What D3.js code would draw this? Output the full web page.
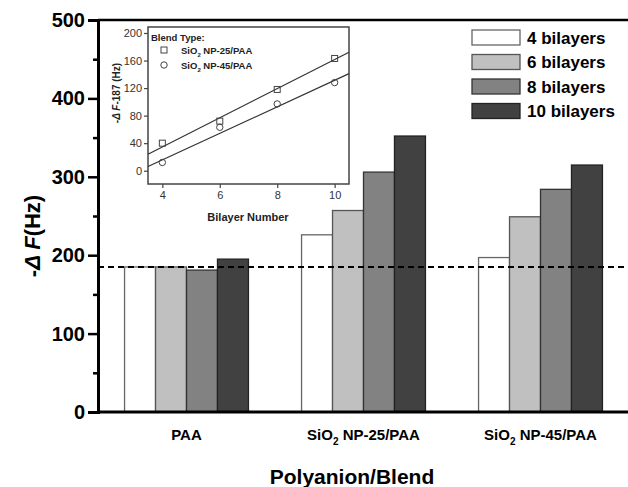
<!DOCTYPE html>
<html lang="en">
<head>
  <meta charset="UTF-8">
  <title>Frequency shift by bilayers</title>
  <script src="https://d3js.org/d3.v7.min.js"></script>
  <style>
    body { margin: 0; background: #fff; }
    text { font-family: "Liberation Sans", Arial, sans-serif; }
  </style>
</head>
<body>
  <div id="chart"></div>

  <script>
    // main bar chart data
    const groups = ["PAA", "SiO2 NP-25/PAA", "SiO2 NP-45/PAA"];
    const series = ["4 bilayers", "6 bilayers", "8 bilayers", "10 bilayers"];
    const bil4 = [185, 226, 197];
    const bil6 = [185, 257, 249];
    const bil8 = [181, 306, 284];
    const bil10 = [195, 352, 315];
    const baseline = 185;
    const yTicks = [0, 100, 200, 300, 400, 500];

    // inset data
    const bilayerNumbers = [4, 6, 8, 10];
    const np25 = [40, 72, 118, 163];
    const np45 = [12, 63, 97, 128];
    const fit25 = [[3.5, 24], [10.5, 172]];
    const fit45 = [[3.5, 6], [10.5, 141]];
    const insetYTicks = [0, 40, 80, 120, 160, 200];

    const width = 628;
    const height = 487;
    const colors = ["#ffffff", "#c0c0c0", "#828282", "#414141"];
    const strokes = ["#666", "#555", "#333", "#222"];
    const values = [bil4, bil6, bil8, bil10];

    const svg = d3.select("#chart")
      .append("svg")
      .attr("width", width)
      .attr("height", height);

    const x0 = d3.scaleBand()
      .domain(groups)
      .range([98, 629])
      .paddingInner(0.3)
      .paddingOuter(0.15);

    const x1 = d3.scaleBand()
      .domain(series)
      .range([0, x0.bandwidth()]);

    const y = d3.scaleLinear()
      .domain([0, 500])
      .range([412, 20]);

    const rows = [];
    groups.forEach((g, gi) => {
      series.forEach((s, si) => {
        rows.push({ group: g, series: s, value: values[si][gi], color: colors[si], stroke: strokes[si] });
      });
    });

    svg.selectAll(".bar")
      .data(rows)
      .enter().append("rect")
      .attr("class", "bar")
      .attr("x", d => x0(d.group) + x1(d.series))
      .attr("y", d => y(d.value))
      .attr("width", x1.bandwidth())
      .attr("height", d => y(0) - y(d.value))
      .attr("fill", d => d.color)
      .attr("stroke", d => d.stroke)
      .attr("stroke-width", 1.3);

    // dashed reference line
    svg.append("line")
      .attr("x1", 98).attr("x2", width)
      .attr("y1", y(baseline)).attr("y2", y(baseline))
      .attr("stroke", "#000")
      .attr("stroke-width", 2)
      .attr("stroke-dasharray", "6,4");

    // top frame line
    svg.append("line")
      .attr("x1", 98).attr("x2", width)
      .attr("y1", y(500)).attr("y2", y(500))
      .attr("stroke", "#000")
      .attr("stroke-width", 2.5);

    // y axis
    const yAxis = svg.append("g")
      .attr("transform", "translate(98,0)")
      .call(d3.axisLeft(y).tickValues(yTicks).tickSize(10).tickPadding(3));
    yAxis.select(".domain").attr("stroke-width", 3);
    yAxis.selectAll(".tick line").attr("stroke-width", 2.5);
    yAxis.selectAll("text")
      .style("font-family", "'Liberation Sans', Arial, sans-serif")
      .style("font-size", "20px")
      .style("font-weight", "bold")
      .attr("fill", "#000");

    svg.append("g")
      .attr("transform", "translate(98,0)")
      .call(d3.axisLeft(y).tickValues(d3.range(50, 500, 100)).tickSize(5).tickFormat(""))
      .call(g => g.select(".domain").remove())
      .selectAll(".tick line").attr("stroke-width", 2.5);

    // x axis
    const xAxis = svg.append("g")
      .attr("transform", `translate(0,${y(0)})`)
      .call(d3.axisBottom(x0).tickSize(0).tickPadding(17));
    xAxis.select(".domain")
      .attr("d", `M98,0H${width}`)
      .attr("stroke-width", 3);
    xAxis.selectAll(".tick text").each(function(d) {
      const t = d3.select(this).text("")
        .style("font-family", "'Liberation Sans', Arial, sans-serif")
        .style("font-size", "15px")
        .style("font-weight", "bold")
        .attr("fill", "#000");
      if (d.startsWith("SiO2")) {
        t.append("tspan").text("SiO");
        t.append("tspan").text("2").attr("font-size", "10px").attr("dy", 5);
        t.append("tspan").text(d.slice(4)).attr("dy", -5);
      } else {
        t.text(d);
      }
    });

    // axis titles
    const yTitle = svg.append("text")
      .attr("transform", "translate(40,236) rotate(-90)")
      .attr("text-anchor", "middle")
      .style("font-size", "22px")
      .style("font-weight", "bold");
    yTitle.append("tspan").text("-");
    yTitle.append("tspan").text("\u0394 F").style("font-style", "italic");
    yTitle.append("tspan").text("(Hz)");

    svg.append("text")
      .attr("x", 352)
      .attr("y", 484)
      .attr("text-anchor", "middle")
      .style("font-size", "21px")
      .style("font-weight", "bold")
      .text("Polyanion/Blend");

    // legend
    const legend = svg.append("g");
    series.forEach((s, i) => {
      const ly = 30 + i * 24.5;
      legend.append("rect")
        .attr("x", 472).attr("y", ly)
        .attr("width", 48).attr("height", 15)
        .attr("fill", colors[i])
        .attr("stroke", strokes[i])
        .attr("stroke-width", 1.3);
      legend.append("text")
        .attr("x", 527).attr("y", ly + 13.5)
        .style("font-size", "17px")
        .style("font-weight", "bold")
        .text(s);
    });

    // inset plot
    const ix = d3.scaleLinear().domain([3.5, 10.5]).range([148, 349]);
    const iy = d3.scaleLinear().domain([-19.3, 208.7]).range([184, 27]);
    const inset = svg.append("g");

    inset.append("rect")
      .attr("x", 148).attr("y", 27)
      .attr("width", 201).attr("height", 157)
      .attr("fill", "#fff")
      .attr("stroke", "#444")
      .attr("stroke-width", 1.5);

    const ixAxis = inset.append("g")
      .attr("transform", "translate(0,184)")
      .call(d3.axisBottom(ix).tickValues(bilayerNumbers).tickFormat(d3.format("d")).tickSize(4).tickPadding(3));
    ixAxis.select(".domain").remove();
    const iyAxis = inset.append("g")
      .attr("transform", "translate(148,0)")
      .call(d3.axisLeft(iy).tickValues(insetYTicks).tickSize(4).tickPadding(2));
    iyAxis.select(".domain").remove();
    inset.selectAll(".tick line").attr("stroke", "#444").attr("stroke-width", 1.2);
    inset.selectAll(".tick text")
      .style("font-family", "'Liberation Sans', Arial, sans-serif")
      .style("font-size", "11px")
      .attr("fill", "#333");

    const line = d3.line().x(d => ix(d[0])).y(d => iy(d[1]));
    [fit25, fit45].forEach(f => {
      inset.append("path")
        .attr("d", line(f))
        .attr("fill", "none")
        .attr("stroke", "#333")
        .attr("stroke-width", 1.2);
    });

    inset.selectAll(".sq")
      .data(bilayerNumbers.map((b, i) => [b, np25[i]]))
      .enter().append("rect")
      .attr("x", d => ix(d[0]) - 3)
      .attr("y", d => iy(d[1]) - 3)
      .attr("width", 6).attr("height", 6)
      .attr("fill", "none")
      .attr("stroke", "#444")
      .attr("stroke-width", 1);

    inset.selectAll(".ci")
      .data(bilayerNumbers.map((b, i) => [b, np45[i]]))
      .enter().append("circle")
      .attr("cx", d => ix(d[0]))
      .attr("cy", d => iy(d[1]))
      .attr("r", 3.2)
      .attr("fill", "none")
      .attr("stroke", "#444")
      .attr("stroke-width", 1);

    // inset titles
    const iyTitle = inset.append("text")
      .attr("transform", "translate(120,93) rotate(-90)")
      .attr("text-anchor", "middle")
      .style("font-size", "10px")
      .style("font-weight", "bold")
      .attr("fill", "#222");
    iyTitle.append("tspan").text("-");
    iyTitle.append("tspan").text("\u0394 F").style("font-style", "italic");
    iyTitle.append("tspan").text("-187 (Hz)");

    inset.append("text")
      .attr("x", 248).attr("y", 221)
      .attr("text-anchor", "middle")
      .style("font-size", "11px")
      .style("font-weight", "bold")
      .attr("fill", "#222")
      .text("Bilayer Number");

    // inset legend
    inset.append("text")
      .attr("x", 151).attr("y", 41)
      .style("font-size", "9.5px")
      .style("font-weight", "bold")
      .attr("fill", "#222")
      .text("Blend Type:");
    const insetItems = ["NP-25/PAA", "NP-45/PAA"];
    insetItems.forEach((name, i) => {
      const ly = 50 + i * 15;
      if (i === 0) {
        inset.append("rect")
          .attr("x", 161).attr("y", ly - 3)
          .attr("width", 6).attr("height", 6)
          .attr("fill", "none").attr("stroke", "#444");
      } else {
        inset.append("circle")
          .attr("cx", 164).attr("cy", ly).attr("r", 3.2)
          .attr("fill", "none").attr("stroke", "#444");
      }
      const t = inset.append("text")
        .attr("x", 181).attr("y", ly + 3.5)
        .style("font-size", "9.5px")
        .style("font-weight", "bold")
        .attr("fill", "#222");
      t.append("tspan").text("SiO");
      t.append("tspan").text("2").attr("font-size", "6px").attr("dy", 3);
      t.append("tspan").text(" " + name).attr("dy", -3);
    });
  </script>
</body>
</html>
